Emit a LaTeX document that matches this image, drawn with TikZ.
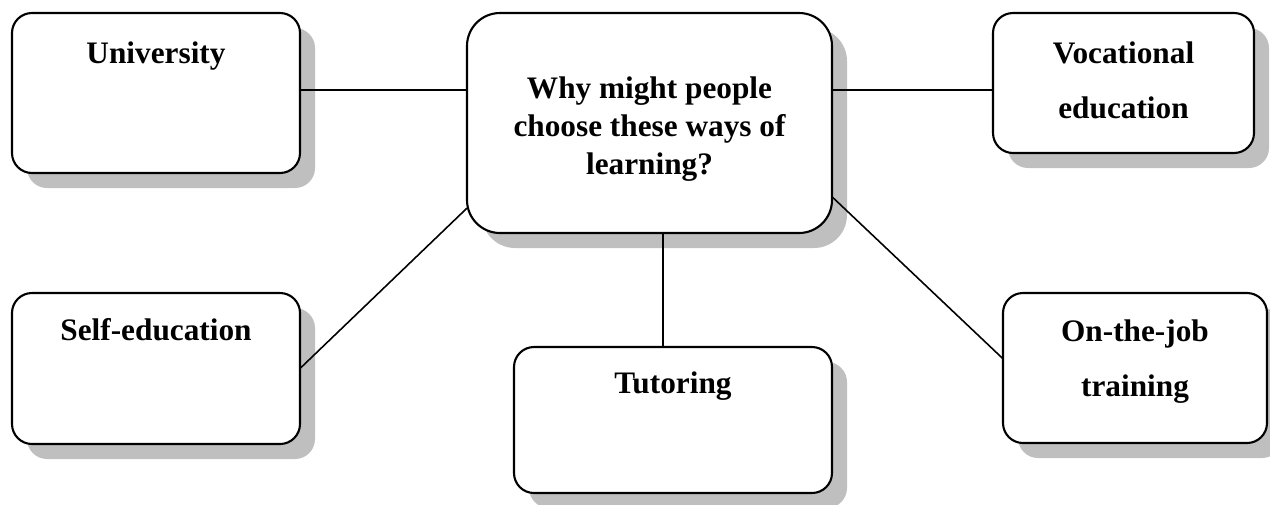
\documentclass[tikz,border=0pt]{standalone}
\usepackage{fontspec}
\setmainfont{Liberation Serif}
\usetikzlibrary{positioning, shadows}
\tikzstyle{topic}=[rectangle, rounded corners=0.2cm, draw=black, line width=0.6pt, fill=white, inner sep=0pt, outer sep=0pt, drop shadow={shadow xshift=0.15cm, shadow yshift=-0.15cm, fill=black!25, opacity=1}]
\tikzstyle{heading}=[align=center, font=\fontsize{8.9}{10.7}\selectfont\bfseries]
\tikzstyle{question}=[topic, rounded corners=0.33cm]
\tikzstyle{link}=[line width=0.45pt]

\begin{document}
\begin{tikzpicture}
    \useasboundingbox (0,0) rectangle (12.7,5.04);

    \node[topic, minimum width=2.88cm, minimum height=1.60cm] (uni) at (1.56,4.11) {};
    \node[question, minimum width=3.65cm, minimum height=2.20cm] (centre) at (6.495,3.81) {};
    \node[topic, minimum width=2.61cm, minimum height=1.40cm] (voc) at (11.235,4.21) {};
    \node[topic, minimum width=2.88cm, minimum height=1.51cm] (self) at (1.56,1.355) {};
    \node[topic, minimum width=3.18cm, minimum height=1.46cm] (tut) at (6.73,0.84) {};
    \node[topic, minimum width=2.64cm, minimum height=1.50cm] (job) at (11.35,1.36) {};

    \node[heading] (centretext) at ([yshift=-0.06cm]centre.center)
        {Why might people\\choose these ways of\\learning?};
    \node[heading] (unitext) at ([yshift=-0.43cm]uni.north) {University};
    \node[heading] (voctext) at ([yshift=-0.675cm]voc.north) {Vocational\\[5pt]education};
    \node[heading] (selftext) at ([yshift=-0.37cm]self.north) {Self-education};
    \node[heading] (tuttext) at ([yshift=-0.39cm]tut.north) {Tutoring};
    \node[heading] (jobtext) at ([yshift=-0.685cm]job.north) {On-the-job\\[5pt]training};

    \draw[link] ([yshift=0.03cm]uni.east) -- ([yshift=0.03cm]uni.east -| centre.west);
    \draw[link] ([yshift=-0.07cm]voc.west) -- ([yshift=-0.07cm]voc.west -| centre.east);
    \draw[link] (self.east) -- (centre.205);
    \draw[link] ([xshift=-0.1cm]tut.north) -- ([xshift=-0.1cm]tut.north |- centre.south);
    \draw[link] (job.176) -- (centre.338);
\end{tikzpicture}
\end{document}
